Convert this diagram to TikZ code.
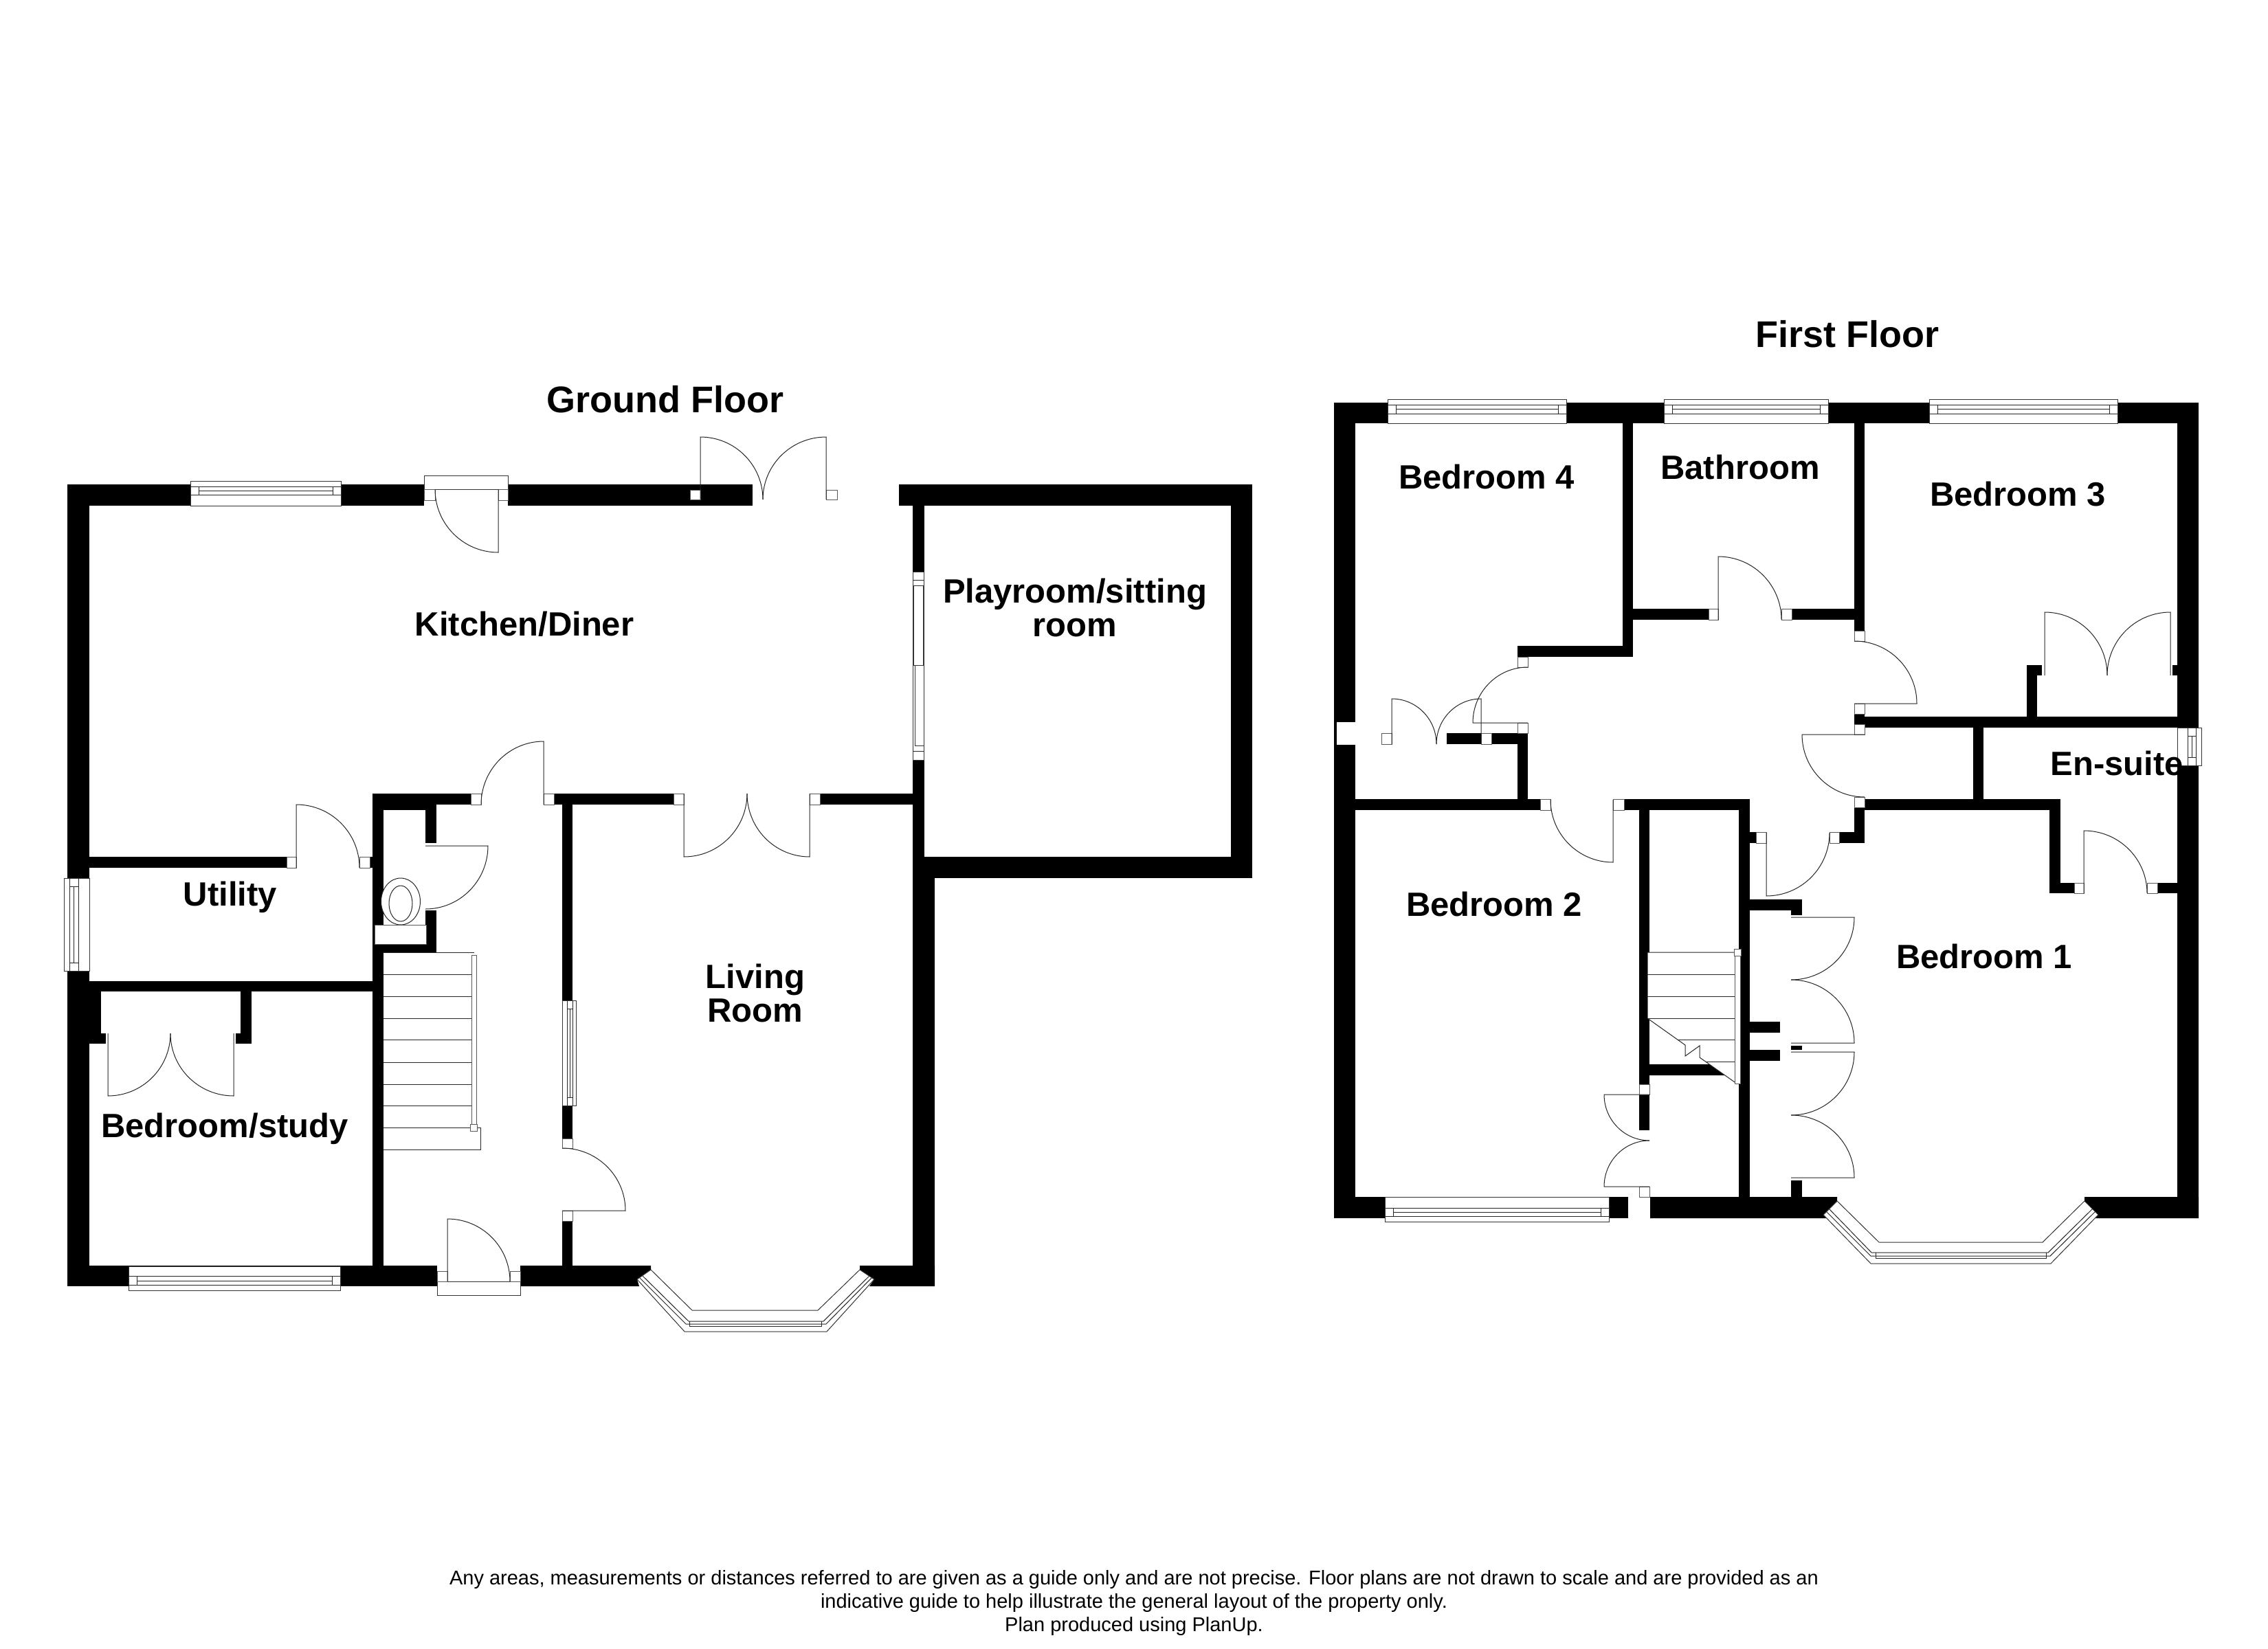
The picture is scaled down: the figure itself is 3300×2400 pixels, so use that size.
\documentclass[tikz,border=0pt]{standalone}
\usepackage{fontspec}
\setmainfont{Liberation Sans}
\tikzset{
    wallpart/.style={fill=black, draw=none},
    jamb/.style={draw=black!65, fill=white, line width=1pt},
    glass/.style={draw=black!80, fill=white, line width=1pt},
    thinline/.style={draw=black!85, line width=1pt},
    roomname/.style={font=\bfseries\fontsize{49}{49}\selectfont, align=center, inner sep=0pt},
    floorname/.style={font=\bfseries\fontsize{54}{54}\selectfont, anchor=base, inner sep=0pt},
}
\begin{document}
\begin{tikzpicture}[x=1pt, y=-1pt]
    \path[use as bounding box, fill=white] (0,0) rectangle (3300,2400);
    % walls
    \foreach \xa/\ya/\xb/\yb in {98/705/617/736, 739/705/1095/736, 1308/705/1822/736, 98/705/130/1872,
        1791/705/1822/1278, 1328/1247/1822/1278, 1328/705/1345/1872, 1328/1247/1360/1872,
        130/1247/417/1263, 538/1247/542/1263, 130/1428/542/1443, 542/1155/558/1872, 542/1155/685/1171,
        558/1171/619/1179, 619/1171/635/1227, 619/1325/635/1386, 542/1374/635/1386,
        806/1155/980/1171, 1193/1155/1328/1171, 818/1171/833/1456, 818/1609/833/1657, 818/1777/833/1842,
        130/1443/147/1519, 130/1504/154/1519, 350/1443/366/1519, 343/1504/366/1519,
        1941/586/3199/616, 1941/586/1972/1773, 3168/586/3199/1773, 1941/1742/2369/1773,
        2361/616/2376/956, 2208/940/2376/956, 2208/1067/2223/1179, 2105/1067/2223/1083,
        1972/1163/2241/1179, 2363/1163/2546/1179, 2385/1163/2400/1578, 2385/1593/2400/1645,
        2530/1163/2546/1773, 2376/886/2486/902, 2607/886/2698/902, 2698/616/2713/918, 2698/1039/2713/1054,
        2713/1043/3168/1059, 2698/1175/2713/1227, 2676/1211/2713/1227, 2546/1211/2555/1227,
        2713/1163/2998/1179, 2871/1059/2886/1163, 2982/1163/2998/1300, 2982/1285/3018/1300,
        3139/1285/3168/1300, 2949/968/2964/1043, 2949/968/2971/983, 3161/968/3168/983,
        2546/1309/2622/1325, 2606/1325/2622/1332, 2546/1487/2590/1503, 2546/1528/2590/1544,
        2606/1522/2622/1528, 2606/1718/2622/1742, 98/1842/636/1872}
        \path[wallpart] (\xa,\ya) rectangle (\xb,\yb);
    \path[wallpart] (757,1842) -- (947,1842) -- (947,1848) -- (927,1862) -- (930,1872) -- (757,1872) -- cycle;
    \path[wallpart] (1251,1842) -- (1251,1848) -- (1272,1862) -- (1265,1872) -- (1360,1872) -- (1360,1842) -- cycle;
    \path[wallpart] (2401,1742) -- (2673,1742) -- (2673,1748) -- (2653,1768) -- (2657,1773) -- (2401,1773) -- cycle;
    \path[wallpart] (3033,1742) -- (3033,1748) -- (3053,1768) -- (3049,1773) -- (3199,1773) -- (3199,1742) -- cycle;
    \path[wallpart] (2400,1549) -- (2487,1549) -- (2510,1565) -- (2400,1565) -- cycle;
    \fill[white] (1945,1051) rectangle (1972,1084);
    % windows
    \foreach \xa/\xb/\ya/\yb/\yc/\yd/\ye in {277/496/700/708/714/720/736, 187/495/1843/1857/1864/1870/1878,
        2019/2279/581/589/595/602/616, 2421/2660/581/589/595/602/616, 2807/3081/581/589/595/602/616,
        2015/2341/1742/1758/1764/1770/1778} {
        \draw[glass] (\xa,\ya) rectangle (\xb,\ye);
        \draw[thinline] (\xa,\yb) -- (\xb,\yb) (\xa,\yd) -- (\xb,\yd);
        \draw[thinline] (\xa+12,\yb) -- (\xa+12,\yd) (\xb-12,\yb) -- (\xb-12,\yd) (\xa+12,\yc) -- (\xb-12,\yc);
    }
    \foreach \xa/\xb/\xc/\xd/\xe/\ya/\yb in {93/101/107/114/130/1278/1413, 818/825/829/833/838/1456/1609,
        3168/3183/3189/3195/3203/1059/1114} {
        \draw[glass] (\xa,\ya) rectangle (\xe,\yb);
        \draw[thinline] (\xb,\ya) -- (\xb,\yb) (\xd,\ya) -- (\xd,\yb);
        \draw[thinline] (\xb,\ya+12) -- (\xd,\ya+12) (\xb,\yb-12) -- (\xd,\yb-12) (\xc,\ya+12) -- (\xc,\yb-12);
    }
    \draw[glass] (1328,832) rectangle (1344,1106);
    \draw[thinline] (1328,844) -- (1344,844) (1328,1093) -- (1344,1093);
    \draw[glass] (1329,852) rectangle (1343,968);
    \draw[glass] (1331,968) rectangle (1344,1085);
    % bay windows
    \draw[glass] (927,1862) -- (996,1938) -- (1203,1938) -- (1272,1862) -- (1251,1848) -- (1190,1907) -- (1007,1907) -- (947,1848) -- cycle;
    \draw[thinline] (931,1860) -- (998,1927) -- (1202,1927) -- (1268,1860);
    \draw[thinline] (935,1857) -- (1002,1923) -- (1198,1923) -- (1265,1857);
    \draw[thinline] (1003,1923) -- (1003,1930) -- (1195,1930) -- (1195,1923);
    \draw[glass] (2653,1768) -- (2722,1839) -- (2984,1839) -- (3053,1768) -- (3033,1748) -- (2972,1808) -- (2734,1808) -- (2673,1748) -- cycle;
    \draw[thinline] (2657,1763) -- (2722,1828) -- (2983,1828) -- (3049,1763);
    \draw[thinline] (2661,1759) -- (2723,1823) -- (2980,1823) -- (3045,1759);
    \draw[thinline] (2729,1823) -- (2729,1831) -- (2977,1831) -- (2977,1823);
    % outer door frames
    \draw[glass] (617,692) rectangle (739,712);
    \draw[glass] (636,1865) rectangle (757,1885);
    % door jambs
    \foreach \xa/\ya/\xb/\yb in {617/712/633/728, 725/712/739/728, 1004/713/1019/727, 1202/713/1218/727,
        685/1155/700/1171, 791/1155/806/1171, 417/1247/431/1263, 523/1247/538/1263, 980/1155/995/1171,
        1178/1155/1193/1171, 818/1657/833/1671, 818/1762/833/1777, 636/1850/651/1865, 742/1850/757/1865,
        2486/886/2500/902, 2592/886/2607/902, 2698/918/2713/933, 2698/1024/2713/1039, 2698/1054/2713/1069,
        2698/1160/2713/1175, 2208/956/2223/971, 2208/1052/2223/1067, 2010/1067/2025/1083, 2155/1067/2170/1083,
        2241/1163/2256/1179, 2347/1163/2363/1179, 2555/1211/2570/1227, 2662/1211/2676/1227,
        2385/1578/2400/1593, 2385/1727/2400/1742, 3018/1285/3032/1300, 3124/1285/3139/1300}
        \draw[jamb] (\xa,\ya) rectangle (\xb,\yb);
    % door leaves: hinge / open end / closed end
    \foreach \cx/\cy/\ax/\ay/\bx/\by in {725/712/725/804/633/712, 1019/727/1019/636/1110/727, 1202/727/1202/636/1110/727,
        791/1171/791/1079/700/1171, 431/1263/431/1171/523/1263, 619/1231/710/1231/619/1323,
        995/1155/995/1247/1087/1155, 1178/1155/1178/1247/1087/1155, 818/1762/910/1762/818/1671,
        651/1865/651/1774/742/1865, 157/1504/157/1595/248/1504, 340/1504/340/1595/248/1504,
        2500/902/2500/810/2592/902, 2223/1052/2143/1052/2223/971, 2025/1083/2025/1017/2090/1083,
        2155/1083/2155/1017/2090/1083, 2347/1164/2347/1255/2256/1164, 2698/1024/2789/1024/2698/933,
        2713/1069/2622/1069/2713/1160, 2570/1212/2570/1304/2662/1212, 2400/1727/2334/1727/2400/1660,
        2400/1593/2334/1593/2400/1660, 2606/1335/2698/1335/2606/1426, 2606/1518/2698/1518/2606/1426,
        2606/1531/2698/1531/2606/1623, 2606/1714/2698/1714/2606/1623, 2975/983/2975/891/3066/983,
        3158/983/3158/891/3066/983, 3032/1300/3032/1209/3124/1300}
        \draw[thinline] (\cx,\cy) -- (\ax,\ay) .. controls (\ax+0.5523*\bx-0.5523*\cx,\ay+0.5523*\by-0.5523*\cy)
            and (\bx+0.5523*\ax-0.5523*\cx,\by+0.5523*\ay-0.5523*\cy) .. (\bx,\by);
    % toilet
    \draw[thinline, fill=white] (583,1312) ellipse [x radius=28.5, y radius=34];
    \draw[thinline] (583,1315) ellipse [x radius=17, y radius=26];
    \draw[jamb] (545,1346) rectangle (620,1374);
    % stairs, ground floor
    \draw[thinline] (558,1386) -- (690,1386);
    \foreach \ty in {1418,1450,1482,1513,1546,1578,1609}
        \draw[thinline] (558,\ty) -- (686,\ty);
    \draw[thinline] (558,1641) -- (699,1641) -- (699,1673) -- (558,1673);
    \draw[jamb] (686,1390) rectangle (693,1641);
    \draw[jamb] (684,1636) rectangle (694,1646);
    % stairs, first floor
    \fill[white] (2397,1386) -- (2524,1386) -- (2524,1575) -- (2473,1539) -- (2473,1522) -- (2452,1537) -- (2452,1521) -- (2397,1482) -- cycle;
    \draw[thinline] (2524,1386) -- (2397,1386) -- (2397,1482) -- (2452,1521) -- (2452,1537) -- (2473,1522) -- (2473,1539) -- (2524,1575);
    \foreach \ty in {1418,1450,1482}
        \draw[thinline] (2397,\ty) -- (2524,\ty);
    \draw[thinline] (2442,1513) -- (2524,1513) (2483,1545) -- (2524,1545);
    \draw[jamb] (2524,1386) rectangle (2532,1577);
    \draw[jamb] (2523,1381) rectangle (2533,1391);
    % labels
    \node[floorname] (groundfloor) at (968,600) {Ground Floor};
    \node[floorname] (firstfloor) at (2688,505) {First Floor};
    \node[roomname, anchor=base] (kitchen) at (763,925) {Kitchen/Diner};
    \node[roomname] (playroom) at (1564,884) {Playroom/sitting\\room};
    \node[roomname, anchor=base] (utility) at (335,1318) {Utility};
    \node[roomname, anchor=base] (study) at (327,1655) {Bedroom/study};
    \node[roomname] (living) at (1099,1445) {Living\\Room};
    \node[roomname, anchor=base] (bedfour) at (2163,711) {Bedroom 4};
    \node[roomname, anchor=base] (bathroom) at (2532,697) {Bathroom};
    \node[roomname, anchor=base] (bedthree) at (2936,736) {Bedroom 3};
    \node[roomname, anchor=base] (ensuite) at (3080,1128) {En-suite};
    \node[roomname, anchor=base] (bedtwo) at (2174,1333) {Bedroom 2};
    \node[roomname, anchor=base] (bedone) at (2887,1409) {Bedroom 1};
    \node[font=\fontsize{29}{34}\selectfont, align=center, inner sep=0pt, anchor=north] (footer) at (1650,2285)
        {Any areas, measurements or distances referred to are given as a guide only and are not precise. Floor plans are not drawn to scale and are provided as an\\
        indicative guide to help illustrate the general layout of the property only.\\
        Plan produced using PlanUp.};
\end{tikzpicture}
\end{document}
